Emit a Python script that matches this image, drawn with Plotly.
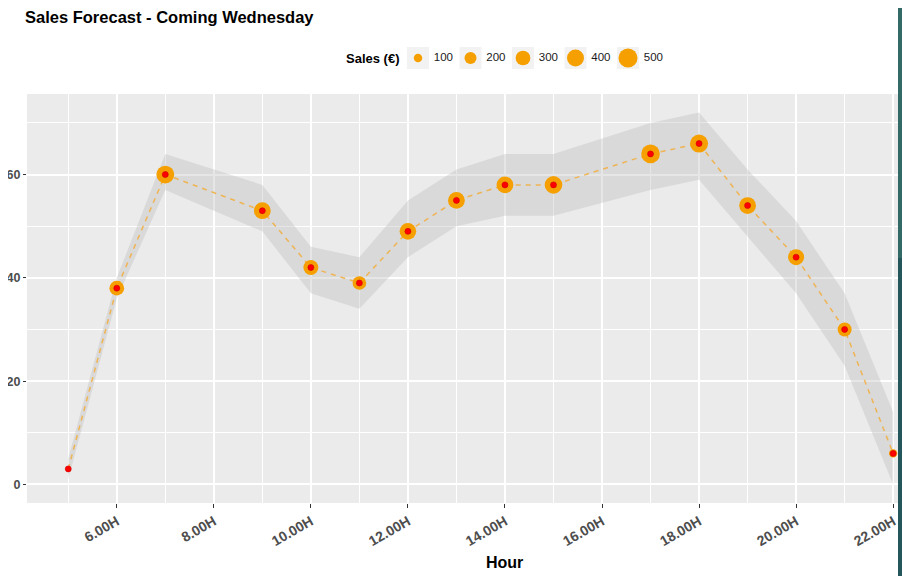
import plotly.graph_objects as go

# forecast data (hours 8 and 16 have no forecast)
hours = [5, 6, 7, 9, 10, 11, 12, 13, 14, 15, 17, 18, 19, 20, 21, 22]
forecast = [3, 38, 60, 53, 42, 39, 49, 55, 58, 58, 64, 66, 54, 44, 30, 6]
lower = [1, 36, 57, 49, 37, 34, 44, 50, 52, 52, 57, 59, 48, 37, 23, 0]
upper = [5, 40, 64, 58, 46, 44, 55, 61, 64, 64, 70, 72, 61, 51, 37, 14]
sales = [40, 300, 440, 390, 310, 260, 380, 390, 390, 430, 480, 450, 390, 355, 270, 95]

x_ticks = [6, 8, 10, 12, 14, 16, 18, 20, 22]
x_labels = ["6.00H", "8.00H", "10.00H", "12.00H", "14.00H", "16.00H", "18.00H", "20.00H", "22.00H"]
y_ticks = [0, 20, 40, 60]
legend_sales = [100, 200, 300, 400, 500]
legend_labels = ["100", "200", "300", "400", "500"]

FONT = "Liberation Sans"
ORANGE = "#F5A000"
sizeref = 2.0 * max(legend_sales) / (19 ** 2)

# page body has an 8px margin, so the figure is laid out in page px - 8
W, H = 902, 568
L, R, T, B = 19, 12, 30, 73
PW, PH = W - L - R, H - T - B


def px(x):
    return (x - L) / PW


def py(y):
    return (H - B - y) / PH


fig = go.Figure()

# confidence ribbon
fig.add_trace(go.Scatter(x=hours + hours[::-1], y=upper + lower[::-1],
                         fill="toself", fillcolor="rgba(190,190,190,0.38)",
                         line=dict(width=0), mode="lines", hoverinfo="skip",
                         showlegend=False))
# dashed forecast line
fig.add_trace(go.Scatter(x=hours, y=forecast, mode="lines",
                         line=dict(color="rgba(244,170,50,0.8)", width=1.5, dash="5px,5px"),
                         showlegend=False))
# sales bubbles
fig.add_trace(go.Scatter(x=hours, y=forecast, mode="markers",
                         marker=dict(size=sales, sizemode="area", sizeref=sizeref,
                                     color=ORANGE, opacity=1, line=dict(width=0)),
                         showlegend=False))
# red centre points
fig.add_trace(go.Scatter(x=hours, y=forecast, mode="markers",
                         marker=dict(size=6, color="red", opacity=1,
                                     line=dict(width=0.6, color="#cc0000")),
                         showlegend=False))

# size legend on a helper axis
idx = list(range(len(legend_sales)))
fig.add_trace(go.Scatter(x=idx, y=[0.5] * len(idx), mode="markers", xaxis="x2", yaxis="y2",
                         marker=dict(symbol="square", size=22, color="#f2f2f2", line=dict(width=0)),
                         showlegend=False, hoverinfo="skip"))
fig.add_trace(go.Scatter(x=idx, y=[0.5] * len(idx), mode="markers", xaxis="x2", yaxis="y2",
                         marker=dict(size=legend_sales, sizemode="area", sizeref=sizeref,
                                     color=ORANGE, opacity=1, line=dict(width=0)),
                         showlegend=False, hoverinfo="skip"))
fig.add_trace(go.Scatter(x=[i + 0.3 for i in idx], y=[0.5] * len(idx), mode="text",
                         xaxis="x2", yaxis="y2", text=legend_labels, textposition="middle right",
                         textfont=dict(family=FONT, size=11.5, color="#1a1a1a"),
                         showlegend=False, hoverinfo="skip"))

fig.update_layout(
    width=W, height=H,
    margin=dict(l=L, r=R, t=T, b=B, pad=0, autoexpand=False),
    paper_bgcolor="white",
    plot_bgcolor="#ebebeb",
    font=dict(family=FONT),
    title=dict(text="<b>Sales Forecast - Coming Wednesday</b>", xref="container", yref="container",
               x=17 / W, y=1 - 9 / H, xanchor="left", yanchor="middle",
               font=dict(family=FONT, size=16.5, color="black")),
    xaxis=dict(range=[4.15, 22.1], tickmode="array", tickvals=x_ticks, ticktext=x_labels,
               tickangle=-30, ticks="outside", ticklen=4, tickcolor="#333333",
               tickfont=dict(family=FONT, size=14, color="#4d4d4d", weight="bold"),
               showgrid=True, gridcolor="white", gridwidth=1.5, zeroline=False, showline=False,
               minor=dict(tickmode="array", tickvals=[5, 7, 9, 11, 13, 15, 17, 19, 21],
                          showgrid=True, gridcolor="white", gridwidth=0.7, ticks=""),
               automargin=False, fixedrange=True),
    yaxis=dict(range=[-3.6, 75.6], domain=[0, py(86)], tickmode="array", tickvals=y_ticks,
               ticks="outside", ticklen=3, tickcolor="#333333",
               tickfont=dict(family=FONT, size=12.5, color="#4d4d4d", weight="bold"),
               showgrid=True, gridcolor="white", gridwidth=1.5, zeroline=False, showline=False,
               minor=dict(tickmode="array", tickvals=[10, 30, 50, 70], showgrid=True,
                          gridcolor="white", gridwidth=0.7, ticks=""),
               automargin=False, fixedrange=True),
    xaxis2=dict(domain=[px(322), px(692)], range=[-88 / 52.5, 282 / 52.5],
                anchor="y2", visible=False, fixedrange=True, automargin=False),
    yaxis2=dict(domain=[py(64), py(36)], range=[0, 1],
                anchor="x2", visible=False, fixedrange=True, automargin=False),
    annotations=[
        dict(text="<b>Sales (€)</b>", xref="x2", yref="y2", x=-17 / 52.5, y=0.5,
             xanchor="right", yanchor="middle", showarrow=False,
             font=dict(family=FONT, size=13, color="black")),
        dict(text="<b>Hour</b>", xref="paper", yref="paper", x=px(496),
             y=py(554), xanchor="center", yanchor="middle", showarrow=False,
             font=dict(family=FONT, size=16, color="black")),
    ],
    shapes=[
        # white background behind the legend helper axis
        dict(type="rect", xref="x2 domain", yref="y2 domain", x0=0, x1=1, y0=0, y1=1,
             fillcolor="white", line=dict(width=0), layer="below"),
        # screenshot frame on the right
        dict(type="rect", xref="paper", yref="paper", x0=1, x1=px(W),
             y0=py(250), y1=py(0), fillcolor="#326a68", line=dict(width=0), layer="above"),
        dict(type="rect", xref="paper", yref="paper", x0=1, x1=px(W),
             y0=py(H), y1=py(250), fillcolor="#24575b", line=dict(width=0), layer="above"),
    ],
)

fig.write_html("out.html")
